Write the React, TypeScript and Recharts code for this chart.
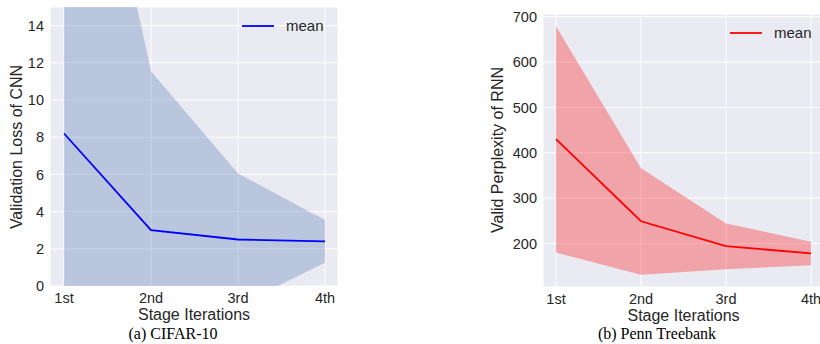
import {
  ComposedChart,
  CartesianGrid,
  XAxis,
  YAxis,
  Area,
  Line,
  Legend,
} from "recharts";

const stages = ["1st", "2nd", "3rd", "4th"];

const cnnMean = [8.2, 3.0, 2.5, 2.4];
const cnnLow = [-16.6, -5.5, -1.05, 1.25];
const cnnHigh = [33, 11.55, 6.05, 3.55];
const cnnTicks = [0, 2, 4, 6, 8, 10, 12, 14];

const rnnMean = [430, 249, 194, 178];
const rnnLow = [180, 131, 143, 152];
const rnnHigh = [679, 366, 244, 204];
const rnnTicks = [200, 300, 400, 500, 600, 700];

const cnnData = stages.map((stage, i) => ({
  stage,
  mean: cnnMean[i],
  band: [cnnLow[i], cnnHigh[i]],
}));

const rnnData = stages.map((stage, i) => ({
  stage,
  mean: rnnMean[i],
  band: [rnnLow[i], rnnHigh[i]],
}));

const SANS = '"Liberation Sans", Arial, sans-serif';
const SERIF = '"Liberation Serif", "Times New Roman", serif';
const TEXT = "#262626";
const BG = "#EAEAF2";

const tickStyle = { fill: TEXT, fontSize: 14.5, fontFamily: SANS };

function MeanLegend({ color }: { color: string }) {
  return (
    <div
      style={{
        display: "flex",
        alignItems: "center",
        fontFamily: SANS,
        fontSize: 15,
        color: TEXT,
        whiteSpace: "nowrap",
      }}
    >
      <svg width={32} height={4} style={{ marginRight: 12 }}>
        <line x1={0} y1={2} x2={32} y2={2} stroke={color} strokeWidth={1.8} />
      </svg>
      <span>mean</span>
    </div>
  );
}

type PanelProps = {
  data: Array<{ stage: string; mean: number; band: number[] }>;
  width: number;
  margin: { top: number; right: number; bottom: number; left: number };
  yWidth: number;
  domain: [number, number];
  ticks: number[];
  yLabel: string;
  yLabelX: number;
  yLabelY: number;
  padding: { left: number; right: number };
  bandColor: string;
  lineColor: string;
  legendPos: { left: number; top: number };
};

function Panel(p: PanelProps) {
  return (
    <ComposedChart width={p.width} height={344} data={p.data} margin={p.margin}>
      <CartesianGrid stroke="#ffffff" strokeWidth={1} fill={BG} />
      <XAxis
        dataKey="stage"
        type="category"
        scale="point"
        padding={p.padding}
        axisLine={false}
        tickLine={false}
        tickSize={0}
        tickMargin={7}
        height={30}
        tick={tickStyle}
        interval={0}
        label={{
          value: "Stage Iterations",
          position: "bottom",
          offset: -7,
          fill: TEXT,
          fontSize: 16,
          fontFamily: SANS,
        }}
      />
      <YAxis
        type="number"
        domain={p.domain}
        ticks={p.ticks}
        allowDataOverflow
        axisLine={false}
        tickLine={false}
        tickSize={0}
        tickMargin={6}
        width={p.yWidth}
        tick={tickStyle}
        label={{
          content: () => (
            <text
              x={p.yLabelX}
              y={p.yLabelY}
              transform={`rotate(-90 ${p.yLabelX} ${p.yLabelY})`}
              textAnchor="middle"
              fill={TEXT}
              fontSize={16}
              fontFamily={SANS}
            >
              {p.yLabel}
            </text>
          ),
        }}
      />
      <Area
        dataKey="band"
        stroke="none"
        fill={p.bandColor}
        fillOpacity={0.3}
        legendType="none"
        isAnimationActive={false}
      />
      <Line
        dataKey="mean"
        name="mean"
        stroke={p.lineColor}
        strokeWidth={1.8}
        dot={false}
        activeDot={false}
        isAnimationActive={false}
      />
      <Legend
        layout="horizontal"
        verticalAlign="middle"
        align="center"
        wrapperStyle={{ left: p.legendPos.left, top: p.legendPos.top, width: "auto" }}
        content={() => <MeanLegend color={p.lineColor} />}
      />
    </ComposedChart>
  );
}

export default function App() {
  return (
    <div
      style={{
        position: "fixed",
        left: 0,
        top: 0,
        width: 820,
        height: 344,
        overflow: "hidden",
        background: "#ffffff",
      }}
    >
      <div style={{ position: "absolute", left: 0, top: 0 }}>
        <Panel
          data={cnnData}
          width={345}
          margin={{ top: 7, right: 7, bottom: 28, left: 6 }}
          yWidth={44}
          domain={[0, 15]}
          ticks={cnnTicks}
          yLabel="Validation Loss of CNN"
          yLabelX={22}
          yLabelY={147}
          padding={{ left: 14, right: 13 }}
          bandColor="#4C72B0"
          lineColor="#0000FF"
          legendPos={{ left: 242, top: 17 }}
        />
      </div>
      <div style={{ position: "absolute", left: 470, top: 0 }}>
        <Panel
          data={rnnData}
          width={360}
          margin={{ top: 14, right: 6, bottom: 27, left: 23 }}
          yWidth={50}
          domain={[104, 706]}
          ticks={rnnTicks}
          yLabel="Valid Perplexity of RNN"
          yLabelX={33}
          yLabelY={150}
          padding={{ left: 13, right: 13 }}
          bandColor="#FF0000"
          lineColor="#FF0000"
          legendPos={{ left: 260, top: 24 }}
        />
      </div>
      <svg
        width={820}
        height={344}
        style={{ position: "absolute", left: 0, top: 0, pointerEvents: "none" }}
      >
        <text x={173} y={339} textAnchor="middle" fontFamily={SERIF} fontSize={16} fill="#000">
          (a) CIFAR-10
        </text>
        <text x={657} y={339} textAnchor="middle" fontFamily={SERIF} fontSize={16} fill="#000">
          (b) Penn Treebank
        </text>
      </svg>
    </div>
  );
}
